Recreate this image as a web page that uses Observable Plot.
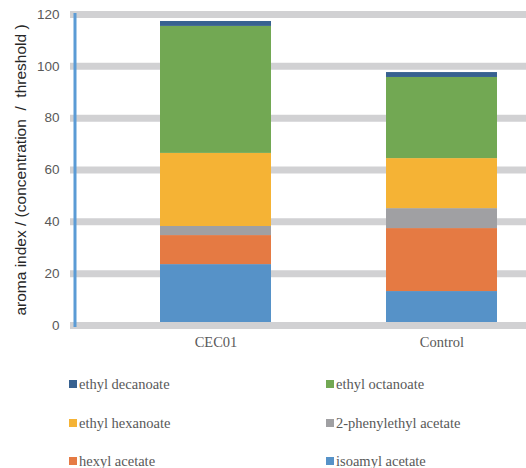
<!DOCTYPE html>
<html>
<head>
<meta charset="utf-8">
<script src="https://cdn.jsdelivr.net/npm/d3@7"></script>
<script src="https://cdn.jsdelivr.net/npm/@observablehq/plot@0.6"></script>
<style>
  body { margin: 0; background: #fff; }
  #wrap { position: relative; width: 526px; height: 468px; overflow: hidden; }
  #legend { position: absolute; left: 0; top: 362px; width: 526px; font-family: "Liberation Serif", "Times New Roman", serif; font-size: 14.5px; color: #595959; }
  .item { position: absolute; display: flex; align-items: center; white-space: nowrap; }
  .sw { width: 8px; height: 8px; margin-right: 2px; }
</style>
</head>
<body>
<div id="wrap"><div id="chart"></div><div id="legend"></div></div>
<script>
const groups = ["CEC01", "Control"];
const compounds = ["isoamyl acetate", "hexyl acetate", "2-phenylethyl acetate", "ethyl hexanoate", "ethyl octanoate", "ethyl decanoate"];
const colors = ["#5692c8", "#e57a43", "#a0a0a3", "#f5b335", "#72a853", "#376190"];
const cec01 = [23.5, 11.2, 3.5, 28.2, 49.0, 1.9];
const control = [13.1, 24.3, 7.7, 19.3, 31.3, 1.9];
const yTicks = [0, 20, 40, 60, 80, 100, 120];
const legendOrder = ["ethyl decanoate", "ethyl octanoate", "ethyl hexanoate", "2-phenylethyl acetate", "hexyl acetate", "isoamyl acetate"];

const rows = [];
compounds.forEach((c, i) => {
  rows.push({group: groups[0], compound: c, value: cec01[i]});
  rows.push({group: groups[1], compound: c, value: control[i]});
});

const chart = Plot.plot({
  width: 526,
  height: 362,
  marginLeft: 70,
  marginRight: 0,
  marginTop: 14,
  marginBottom: 37,
  style: {fontFamily: "'Liberation Sans', Arial, sans-serif", background: "#fff"},
  x: {type: "band", domain: groups, range: [160, 497], paddingInner: 0.509, paddingOuter: 0},
  y: {domain: [0, 120]},
  color: {domain: compounds, range: colors},
  marks: [
    Plot.ruleY(yTicks.filter(d => d !== 0), {stroke: "#d1d1d3", strokeWidth: 7}),
    Plot.barY(rows, {x: "group", y: "value", fill: "compound", z: "compound", inset: 0}),
    Plot.ruleY([0], {stroke: "#d1d1d3", strokeWidth: 7}),
    Plot.frame({anchor: "left", stroke: "#5b9bd5", strokeWidth: 3, strokeDasharray: "8,2.5", dx: 4.5}),
    Plot.axisY({ticks: yTicks, tickSize: 0, tickPadding: 11, fontSize: 13.5, fill: "#595959",
      label: "aroma index / (concentration  /  threshold )", labelAnchor: "center", labelArrow: "none", labelOffset: 56}),
    Plot.axisX({tickSize: 0, tickPadding: 11, fontSize: 14.5, fill: "#595959",
      fontFamily: "'Liberation Serif', 'Times New Roman', serif", label: null})
  ]
});
document.getElementById("chart").appendChild(chart);
// style y-label
chart.querySelectorAll("text").forEach(t => {
  if (t.textContent.startsWith("aroma")) { t.setAttribute("fill", "#262626"); t.setAttribute("font-size", "15.5"); }
});

const legend = document.getElementById("legend");
const rowY = [22, 61, 99];
legendOrder.forEach((c, i) => {
  const el = document.createElement("div");
  el.className = "item";
  const col = i % 2, r = Math.floor(i / 2);
  el.style.left = (col === 0 ? 69 : 326) + "px";
  el.style.top = (rowY[r] - 9) + "px";
  el.style.height = "18px";
  const sw = document.createElement("span");
  sw.className = "sw";
  sw.style.background = colors[compounds.indexOf(c)];
  const tx = document.createElement("span");
  tx.textContent = c;
  el.appendChild(sw); el.appendChild(tx);
  legend.appendChild(el);
});
</script>
</body>
</html>
